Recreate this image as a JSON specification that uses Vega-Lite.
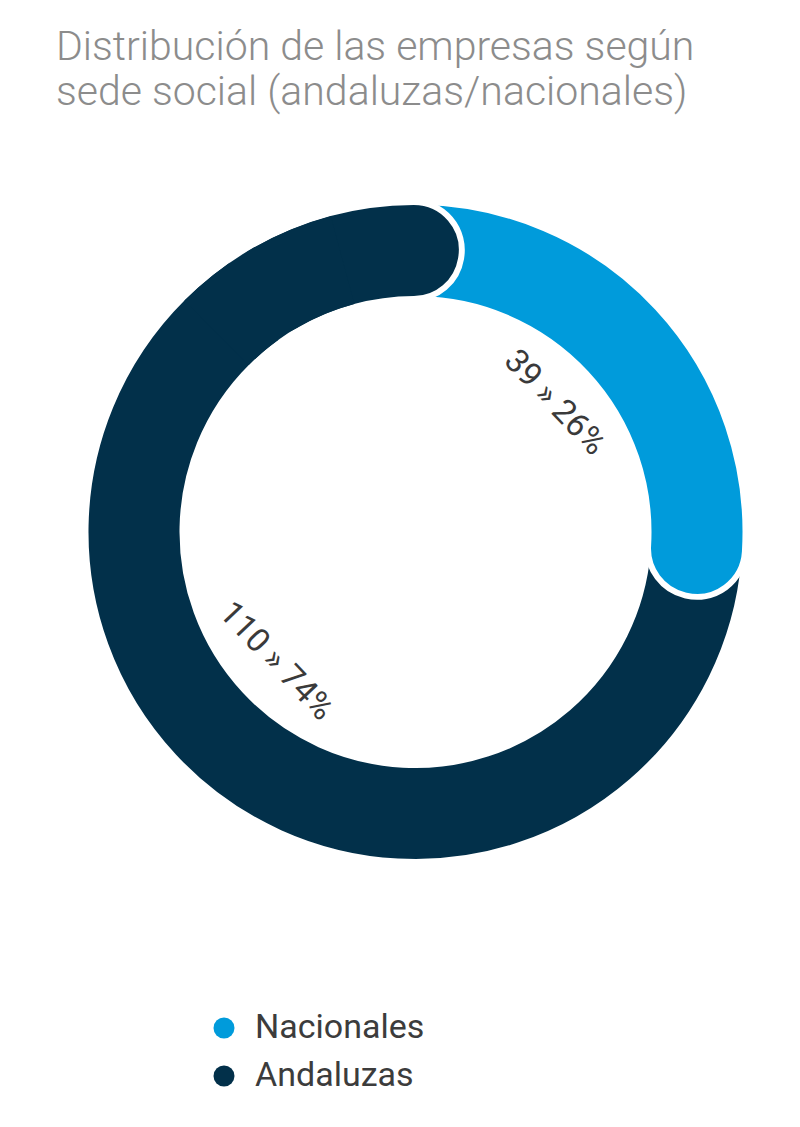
{
  "$schema": "https://vega.github.io/schema/vega-lite/v6.json",
  "width": 769,
  "height": 784,
  "autosize": {"type": "none"},
  "padding": {"left": 31, "top": 140, "right": 0, "bottom": 203},
  "background": "white",
  "title": {
    "text": ["Distribución de las empresas según", "sede social (andaluzas/nacionales)"],
    "anchor": "start",
    "frame": "group",
    "dx": 25,
    "offset": 26,
    "font": "Roboto",
    "fontWeight": 300,
    "fontSize": 41,
    "lineHeight": 45,
    "color": "#8c8c8c"
  },
  "data": {
    "values": [
      {"sede": "Nacionales", "empresas": 39, "etiqueta": "39 » 26%"},
      {"sede": "Andaluzas", "empresas": 110, "etiqueta": "110 » 74%"}
    ]
  },
  "transform": [
    {
      "stack": "empresas",
      "groupby": [],
      "sort": [{"field": "sede", "order": "descending"}],
      "as": ["ini", "fin"]
    }
  ],
  "encoding": {
    "color": {
      "field": "sede",
      "type": "nominal",
      "scale": {"domain": ["Nacionales", "Andaluzas"], "range": ["#009bdb", "#02304a"]},
      "legend": {
        "title": null,
        "orient": "none",
        "legendX": 176,
        "legendY": 871,
        "symbolType": "circle",
        "symbolSize": 440,
        "symbolStrokeWidth": 0,
        "labelFont": "Roboto",
        "labelFontSize": 34,
        "labelLimit": 400,
        "labelColor": "#3c3c3c",
        "labelOffset": 14,
        "rowPadding": 14
      }
    }
  },
  "layer": [
    {
      "transform": [{"filter": "datum.sede == 'Andaluzas'"}],
      "mark": {"type": "arc", "outerRadius": 330, "innerRadius": 233, "cornerRadius": 48, "stroke": "white", "strokeWidth": 6, "thetaOffset": -0.157, "theta2Offset": 0.157},
      "encoding": {
        "theta": {"field": "ini", "type": "quantitative"},
        "theta2": {"field": "fin"}
      }
    },
    {
      "transform": [{"filter": "datum.sede == 'Nacionales'"}],
      "mark": {"type": "arc", "outerRadius": 330, "innerRadius": 233, "cornerRadius": 48, "stroke": "white", "strokeWidth": 6, "thetaOffset": -0.157, "theta2Offset": 0.157},
      "encoding": {
        "theta": {"field": "ini", "type": "quantitative"},
        "theta2": {"field": "fin"}
      }
    },
    {
      "transform": [{"filter": "datum.sede == 'Andaluzas'"}],
      "mark": {"type": "arc", "outerRadius": 330, "innerRadius": 233, "cornerRadius": 48, "stroke": "white", "strokeWidth": 6, "thetaOffset": 3.941, "theta2Offset": 0.165},
      "encoding": {
        "theta": {"field": "ini", "type": "quantitative"},
        "theta2": {"field": "fin"}
      }
    },
    {
      "transform": [{"filter": "datum.sede == 'Andaluzas'"}],
      "mark": {"type": "arc", "outerRadius": 327, "innerRadius": 236, "thetaOffset": 3.854, "theta2Offset": -0.262},
      "encoding": {
        "theta": {"field": "ini", "type": "quantitative"},
        "theta2": {"field": "fin"}
      }
    },
    {
      "mark": {"type": "text", "radius": 190, "angle": 46.5, "font": "Roboto", "fontSize": 33, "fill": "#3a3a3a", "align": "center", "baseline": "middle"},
      "encoding": {
        "theta": {"field": "empresas", "type": "quantitative", "stack": true},
        "order": {"field": "sede", "sort": "descending"},
        "detail": {"field": "sede"},
        "color": null,
        "text": {"field": "etiqueta"}
      }
    }
  ],
  "config": {"view": {"stroke": null}}
}
